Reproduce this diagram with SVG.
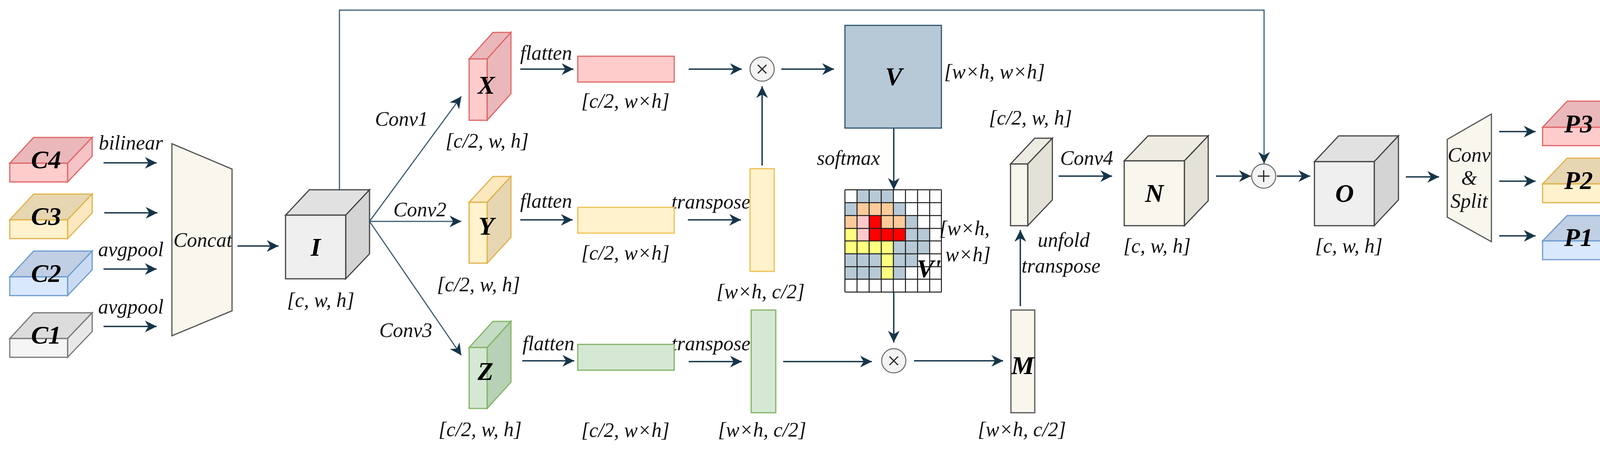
<svg xmlns="http://www.w3.org/2000/svg" width="4181" height="1155" viewBox="0 0 4181 1155">
<style>
.t{font-family:"Liberation Serif","Times New Roman",serif;font-style:italic;font-size:52px;fill:#111;text-anchor:middle}
.b{font-family:"Liberation Serif","Times New Roman",serif;font-style:italic;font-weight:bold;font-size:66px;fill:#000;text-anchor:middle}
.c{fill:none;stroke:#163549;stroke-width:3.5}
.thin{fill:none;stroke:#3e5f75;stroke-width:3}
.op{fill:#f3f3f3;stroke:#666;stroke-width:2.5}
.ops{stroke:#222;stroke-width:3;fill:none}
.g line{stroke:#1b1b1b;stroke-width:2.5}
</style>
<defs>
<marker id="A" markerWidth="30" markerHeight="30" refX="10" refY="5" orient="auto" markerUnits="userSpaceOnUse" viewBox="0 0 10 10">
<path d="M0,0 L10,5 L0,10 L3,5 z" fill="#163549"/>
</marker>
</defs>

<g id="connectors">
<path class="thin" d="M869,486 V26 H3236 V419" marker-end="url(#A)"/>
<line class="c" x1="265" y1="417" x2="401" y2="417" marker-end="url(#A)"/>
<line class="c" x1="267" y1="545" x2="403" y2="545" marker-end="url(#A)"/>
<line class="c" x1="265" y1="689" x2="401" y2="689" marker-end="url(#A)"/>
<line class="c" x1="265" y1="836" x2="401" y2="836" marker-end="url(#A)"/>
<line class="c" x1="608" y1="630" x2="713" y2="630" marker-end="url(#A)"/>
<line class="thin" x1="946" y1="567" x2="1181" y2="247" marker-end="url(#A)"/>
<line class="thin" x1="946" y1="567" x2="1181" y2="567" marker-end="url(#A)"/>
<line class="thin" x1="946" y1="567" x2="1181" y2="910" marker-end="url(#A)"/>
<line class="c" x1="1332" y1="177" x2="1468" y2="177" marker-end="url(#A)"/>
<line class="c" x1="1332" y1="563" x2="1466" y2="563" marker-end="url(#A)"/>
<line class="c" x1="1337" y1="924" x2="1470" y2="924" marker-end="url(#A)"/>
<line class="c" x1="1763" y1="177" x2="1899" y2="177" marker-end="url(#A)"/>
<line class="c" x1="2000" y1="177" x2="2135" y2="177" marker-end="url(#A)"/>
<line class="c" x1="1951" y1="424" x2="1951" y2="221" marker-end="url(#A)"/>
<line class="c" x1="1761" y1="563" x2="1897" y2="563" marker-end="url(#A)"/>
<line class="c" x1="1763" y1="926" x2="1899" y2="926" marker-end="url(#A)"/>
<line class="c" x1="2005" y1="926" x2="2232" y2="926" marker-end="url(#A)"/>
<line class="c" x1="2288" y1="328" x2="2288" y2="486" marker-end="url(#A)"/>
<line class="c" x1="2288" y1="748" x2="2288" y2="877" marker-end="url(#A)"/>
<line class="c" x1="2340" y1="924" x2="2568" y2="924" marker-end="url(#A)"/>
<line class="c" x1="2612" y1="784" x2="2612" y2="589" marker-end="url(#A)"/>
<line class="c" x1="2710" y1="451" x2="2847" y2="451" marker-end="url(#A)"/>
<line class="c" x1="3113" y1="451" x2="3202" y2="451" marker-end="url(#A)"/>
<line class="c" x1="3269" y1="451" x2="3354" y2="451" marker-end="url(#A)"/>
<line class="c" x1="3599" y1="453" x2="3684" y2="453" marker-end="url(#A)"/>
<line class="c" x1="3838" y1="337" x2="3931" y2="337" marker-end="url(#A)"/>
<line class="c" x1="3838" y1="464" x2="3931" y2="464" marker-end="url(#A)"/>
<line class="c" x1="3838" y1="604" x2="3931" y2="604" marker-end="url(#A)"/>
</g>

<g id="C4">
<polygon points="25,418 86,352 236,352 173,418" fill="#eab8bb" stroke="#e06666" stroke-width="3"/>
<polygon points="173,418 236,352 236,400 173,466" fill="#f6c3c6" stroke="#e06666" stroke-width="3"/>
<rect x="25" y="418" width="148" height="48" fill="#ffcccc" stroke="#e06666" stroke-width="3"/>
<text class="b" x="118" y="431" font-size="60">C4</text>
</g>
<g id="C3">
<polygon points="25,563 86,497 236,497 173,563" fill="#e7d6b2" stroke="#e0b24a" stroke-width="3"/>
<polygon points="173,563 236,497 236,545 173,611" fill="#fbe8bf" stroke="#e0b24a" stroke-width="3"/>
<rect x="25" y="563" width="148" height="48" fill="#fff2cc" stroke="#e0b24a" stroke-width="3"/>
<text class="b" x="118" y="576" font-size="60">C3</text>
</g>
<g id="C2">
<polygon points="25,709 86,643 236,643 173,709" fill="#c0cfe3" stroke="#6c9bd0" stroke-width="3"/>
<polygon points="173,709 236,643 236,691 173,757" fill="#cadbf1" stroke="#6c9bd0" stroke-width="3"/>
<rect x="25" y="709" width="148" height="48" fill="#dae8fc" stroke="#6c9bd0" stroke-width="3"/>
<text class="b" x="118" y="722" font-size="60">C2</text>
</g>
<g id="C1">
<polygon points="25,867 86,801 236,801 173,867" fill="#dcdcdc" stroke="#777" stroke-width="3"/>
<polygon points="173,867 236,801 236,849 173,915" fill="#e8e8e8" stroke="#777" stroke-width="3"/>
<rect x="25" y="867" width="148" height="48" fill="#f5f5f5" stroke="#777" stroke-width="3"/>
<text class="b" x="118" y="880" font-size="60">C1</text>
</g>
<g id="edge-labels-left">
<text class="t" x="335" y="383">bilinear</text>
<text class="t" x="335" y="656">avgpool</text>
<text class="t" x="335" y="803">avgpool</text>
</g>
<g id="Concat">
<polygon points="440,368 594,433 594,796 440,860" fill="#f9f6ee" stroke="#555" stroke-width="3"/>
<text class="t" x="519" y="632" font-size="46">Concat</text>
</g>
<g id="I">
<polygon points="731,551 792,486 946,486 885,551" fill="#e1e1e1" stroke="#444" stroke-width="3"/>
<polygon points="885,551 946,486 946,650 885,714" fill="#d4d4d4" stroke="#444" stroke-width="3"/>
<rect x="731" y="551" width="154" height="163" fill="#efefef" stroke="#444" stroke-width="3"/>
<text class="b" x="808" y="655">I</text>
<text class="t" x="821" y="786">[c, w, h]</text>
</g>
<g id="conv-labels">
<text class="t" x="1028" y="322">Conv1</text>
<text class="t" x="1075" y="554">Conv2</text>
<text class="t" x="1039" y="863">Conv3</text>
</g>
<g id="X">
<polygon points="1201,151 1262,83 1308,83 1247,151" fill="#eab8bb" stroke="#e06666" stroke-width="3"/>
<polygon points="1247,151 1308,83 1308,240 1247,308" fill="#eab8bb" stroke="#e06666" stroke-width="3"/>
<rect x="1201" y="151" width="46" height="157" fill="#ffcccc" stroke="#e06666" stroke-width="3"/>
<text class="b" x="1245" y="240">X</text>
<text class="t" x="1247" y="378">[c/2, w, h]</text>
</g>
<g id="Y">
<polygon points="1201,518 1262,452 1308,452 1247,518" fill="#fbe8bf" stroke="#e0b24a" stroke-width="3"/>
<polygon points="1247,518 1308,452 1308,608 1247,674" fill="#e7d6b2" stroke="#e0b24a" stroke-width="3"/>
<rect x="1201" y="518" width="46" height="156" fill="#fff2cc" stroke="#e0b24a" stroke-width="3"/>
<text class="b" x="1245" y="601">Y</text>
<text class="t" x="1225" y="746">[c/2, w, h]</text>
</g>
<g id="Z">
<polygon points="1201,890 1262,823 1308,823 1247,890" fill="#c4dcc3" stroke="#82b366" stroke-width="3"/>
<polygon points="1247,890 1308,823 1308,979 1247,1046" fill="#b6d1b5" stroke="#82b366" stroke-width="3"/>
<rect x="1201" y="890" width="46" height="156" fill="#d5e8d4" stroke="#82b366" stroke-width="3"/>
<text class="b" x="1243" y="973">Z</text>
<text class="t" x="1229" y="1117">[c/2, w, h]</text>
</g>
<g id="flatten-labels">
<text class="t" x="1398" y="153">flatten</text>
<text class="t" x="1398" y="532">flatten</text>
<text class="t" x="1404" y="897">flatten</text>
<text class="t" x="1820" y="534">transpose</text>
<text class="t" x="1820" y="897">transpose</text>
</g>
<g id="Xf">
<rect x="1479" y="144" width="247" height="66" fill="#ffcccc" stroke="#e06666" stroke-width="3"/>
<text class="t" x="1601" y="276">[c/2, w×h]</text>
</g>
<g id="Yf">
<rect x="1479" y="531" width="247" height="66" fill="#fff2cc" stroke="#f0c050" stroke-width="3"/>
<text class="t" x="1601" y="665">[c/2, w×h]</text>
</g>
<g id="Zf">
<rect x="1479" y="882" width="247" height="66" fill="#d5e8d4" stroke="#82b366" stroke-width="3"/>
<text class="t" x="1601" y="1119">[c/2, w×h]</text>
</g>
<g id="Yt">
<rect x="1920" y="432" width="62" height="263" fill="#fff2cc" stroke="#f0c050" stroke-width="3"/>
<text class="t" x="1947" y="764">[w×h, c/2]</text>
</g>
<g id="Zt">
<rect x="1923" y="794" width="63" height="263" fill="#d5e8d4" stroke="#82b366" stroke-width="3"/>
<text class="t" x="1951" y="1118">[w×h, c/2]</text>
</g>
<g id="mul1">
<circle cx="1951" cy="177" r="31" class="op"/>
<path class="ops" d="M1940,166 L1962,188 M1962,166 L1940,188"/>
</g>
<g id="V">
<rect x="2163" y="65" width="247" height="263" fill="#b7c9d6" stroke="#2f5670" stroke-width="3"/>
<text class="b" x="2288" y="218">V</text>
<text class="t" x="2546" y="201">[w×h, w×h]</text>
<text class="t" x="2172" y="422">softmax</text>
</g>
<g id="Vp">
<g>
<rect x="2194" y="486" width="93" height="33" fill="#b7c9d6"/>
<rect x="2163" y="519" width="31" height="33" fill="#b7c9d6"/>
<rect x="2194" y="519" width="93" height="33" fill="#fdcb9b"/>
<rect x="2287" y="519" width="31" height="33" fill="#b7c9d6"/>
<rect x="2163" y="552" width="31" height="33" fill="#fdcb9b"/>
<rect x="2194" y="552" width="31" height="33" fill="#ffc9cc"/>
<rect x="2225" y="552" width="31" height="33" fill="#ff0000"/>
<rect x="2256" y="552" width="62" height="33" fill="#fdcb9b"/>
<rect x="2318" y="552" width="31" height="33" fill="#b7c9d6"/>
<rect x="2163" y="585" width="31" height="32" fill="#ffff7f"/>
<rect x="2194" y="585" width="31" height="32" fill="#ffc9cc"/>
<rect x="2225" y="585" width="93" height="32" fill="#ff0000"/>
<rect x="2318" y="585" width="62" height="32" fill="#b7c9d6"/>
<rect x="2163" y="617" width="124" height="33" fill="#ffff7f"/>
<rect x="2287" y="617" width="93" height="33" fill="#b7c9d6"/>
<rect x="2163" y="650" width="93" height="33" fill="#b7c9d6"/>
<rect x="2256" y="650" width="31" height="33" fill="#ffff7f"/>
<rect x="2287" y="650" width="62" height="33" fill="#b7c9d6"/>
<rect x="2163" y="683" width="93" height="32" fill="#b7c9d6"/>
<rect x="2256" y="683" width="31" height="32" fill="#ffff7f"/>
<rect x="2287" y="683" width="31" height="32" fill="#b7c9d6"/>
</g>
<g class="g">
<line x1="2163" y1="486" x2="2163" y2="748"/><line x1="2194" y1="486" x2="2194" y2="748"/>
<line x1="2225" y1="486" x2="2225" y2="748"/><line x1="2256" y1="486" x2="2256" y2="748"/>
<line x1="2287" y1="486" x2="2287" y2="748"/><line x1="2318" y1="486" x2="2318" y2="748"/>
<line x1="2349" y1="486" x2="2349" y2="748"/><line x1="2380" y1="486" x2="2380" y2="748"/>
<line x1="2410" y1="486" x2="2410" y2="748"/>
<line x1="2163" y1="486" x2="2410" y2="486"/><line x1="2163" y1="519" x2="2410" y2="519"/>
<line x1="2163" y1="552" x2="2410" y2="552"/><line x1="2163" y1="585" x2="2410" y2="585"/>
<line x1="2163" y1="617" x2="2410" y2="617"/><line x1="2163" y1="650" x2="2410" y2="650"/>
<line x1="2163" y1="683" x2="2410" y2="683"/><line x1="2163" y1="715" x2="2410" y2="715"/>
<line x1="2163" y1="748" x2="2410" y2="748"/>
</g>
<text class="b" x="2378" y="710" font-size="54">V'</text>
<text class="t" x="2469" y="602">[w×h,</text>
<text class="t" x="2478" y="669">w×h]</text>
</g>
<g id="mul2">
<circle cx="2288" cy="924" r="31" class="op"/>
<path class="ops" d="M2277,913 L2299,935 M2299,913 L2277,935"/>
</g>
<g id="M">
<rect x="2588" y="794" width="61" height="263" fill="#f9f6ee" stroke="#555" stroke-width="3"/>
<text class="b" x="2618" y="958">M</text>
<text class="t" x="2616" y="1117">[w×h, c/2]</text>
</g>
<g id="S">
<polygon points="2587,420 2649,354 2694,354 2631,420" fill="#eeebe2" stroke="#444" stroke-width="3"/>
<polygon points="2631,420 2694,354 2694,512 2631,578" fill="#e4e1d8" stroke="#444" stroke-width="3"/>
<rect x="2587" y="420" width="44" height="158" fill="#f9f6ee" stroke="#444" stroke-width="3"/>
<text class="t" x="2638" y="319">[c/2, w, h]</text>
<text class="t" x="2723" y="632">unfold</text>
<text class="t" x="2716" y="698">transpose</text>
<text class="t" x="2782" y="422">Conv4</text>
</g>
<g id="N">
<polygon points="2878,412 2939,348 3093,348 3032,412" fill="#eeebe2" stroke="#444" stroke-width="3"/>
<polygon points="3032,412 3093,348 3093,514 3032,578" fill="#e4e1d8" stroke="#444" stroke-width="3"/>
<rect x="2878" y="412" width="154" height="166" fill="#f9f6ee" stroke="#444" stroke-width="3"/>
<text class="b" x="2955" y="517">N</text>
<text class="t" x="2962" y="647">[c, w, h]</text>
</g>
<g id="add">
<circle cx="3235" cy="451" r="31" class="op"/>
<path class="ops" d="M3220,451 H3250 M3235,436 V466"/>
</g>
<g id="O">
<polygon points="3365,414 3427,348 3580,348 3518,414" fill="#e1e1e1" stroke="#444" stroke-width="3"/>
<polygon points="3518,414 3580,348 3580,512 3518,578" fill="#d4d4d4" stroke="#444" stroke-width="3"/>
<rect x="3365" y="414" width="153" height="164" fill="#efefef" stroke="#444" stroke-width="3"/>
<text class="b" x="3442" y="517">O</text>
<text class="t" x="3453" y="647">[c, w, h]</text>
</g>
<g id="ConvSplit">
<polygon points="3705,357 3818,292 3818,619 3705,556" fill="#f9f6ee" stroke="#555" stroke-width="3"/>
<text class="t" x="3761" y="414" font-size="46">Conv</text>
<text class="t" x="3761" y="473" font-size="46">&amp;</text>
<text class="t" x="3761" y="532" font-size="46">Split</text>
</g>
<g id="P3">
<polygon points="3949,326 4012,259 4159,259 4098,326" fill="#eab8bb" stroke="#e06666" stroke-width="3"/>
<polygon points="4098,326 4159,259 4159,306 4098,373" fill="#f6c3c6" stroke="#e06666" stroke-width="3"/>
<rect x="3949" y="326" width="149" height="47" fill="#ffcccc" stroke="#e06666" stroke-width="3"/>
<text class="b" x="4041" y="339" font-size="60">P3</text>
</g>
<g id="P2">
<polygon points="3949,471 4012,405 4159,405 4098,471" fill="#e7d6b2" stroke="#e0b24a" stroke-width="3"/>
<polygon points="4098,471 4159,405 4159,453 4098,519" fill="#fbe8bf" stroke="#e0b24a" stroke-width="3"/>
<rect x="3949" y="471" width="149" height="48" fill="#fff2cc" stroke="#e0b24a" stroke-width="3"/>
<text class="b" x="4041" y="484" font-size="60">P2</text>
</g>
<g id="P1">
<polygon points="3949,617 4012,552 4159,552 4098,617" fill="#c0cfe3" stroke="#6c9bd0" stroke-width="3"/>
<polygon points="4098,617 4159,552 4159,600 4098,665" fill="#cadbf1" stroke="#6c9bd0" stroke-width="3"/>
<rect x="3949" y="617" width="149" height="48" fill="#dae8fc" stroke="#6c9bd0" stroke-width="3"/>
<text class="b" x="4041" y="630" font-size="60">P1</text>
</g>
</svg>
